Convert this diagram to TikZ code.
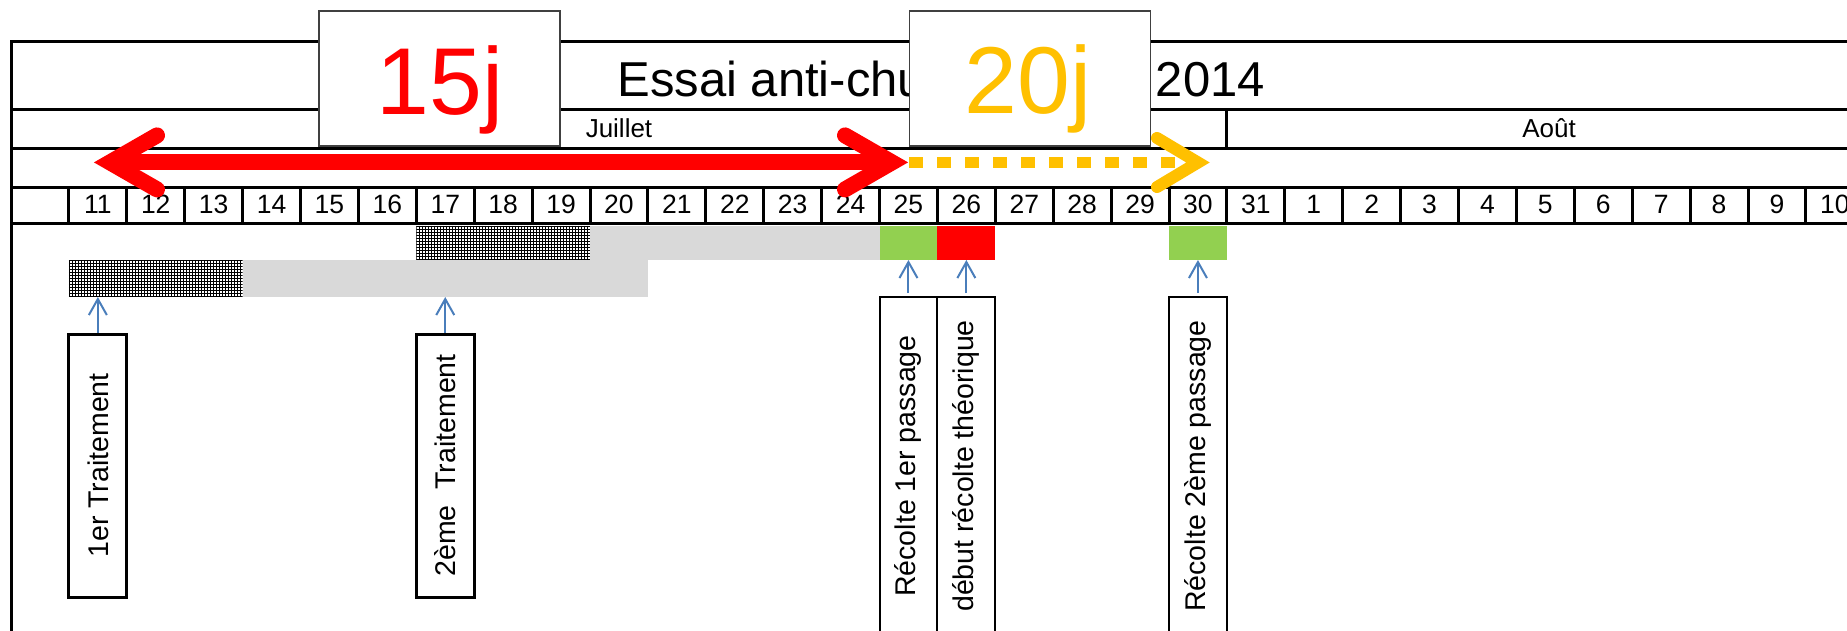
\documentclass[tikz,border=0pt]{standalone}
\usepackage{fontspec}
\setmainfont{Liberation Sans}
\usetikzlibrary{arrows.meta}
\definecolor{barg}{HTML}{D9D9D9}
\definecolor{vert}{HTML}{92D050}
\definecolor{orng}{HTML}{FFC000}
\definecolor{bleu}{HTML}{4A7EBB}
\definecolor{boxgray}{HTML}{404040}
\begin{document}
\begin{tikzpicture}[x=0.5pt,y=-0.5pt,
  tbl/.style={line width=1.5pt, black},
  daynum/.style={font=\fontsize{13.25pt}{15pt}\selectfont, inner sep=0pt, anchor=base},
  month/.style={font=\fontsize{13pt}{15pt}\selectfont, inner sep=0pt, anchor=base},
  titletxt/.style={font=\fontsize{24.5pt}{28pt}\selectfont, inner sep=0pt, anchor=base west},
  bigbox/.style={draw=boxgray, line width=0.75pt, fill=white, minimum width=120.5pt, minimum height=67.5pt, inner sep=0pt},
  bignum/.style={font=\fontsize{47.5pt}{50pt}\selectfont, anchor=base, inner sep=0pt},
  lblA/.style={draw, line width=1.5pt, fill=white, minimum width=28.95pt, minimum height=131.5pt, inner sep=0pt, font=\fontsize{14.25pt}{16pt}\selectfont},
  lblB/.style={draw, line width=1pt, fill=white, minimum width=28.95pt, minimum height=169pt, inner sep=0pt, font=\fontsize{14.25pt}{16pt}\selectfont},
  bar/.style={inner sep=0pt, outer sep=0pt, anchor=north west, draw=none},
  hatchln/.style={line width=0.38pt, black},
  bluearr/.style={draw=bleu, line width=1pt, -{Straight Barb[length=8pt,width=9pt]}},
  redln/.style={red, line width=8pt},
  redhead/.style={red, line width=8pt, line cap=round, line join=miter},
  orngln/.style={orng, line width=5.85pt, dash pattern=on 6.85pt off 7.15pt},
  ornghead/.style={orng, line width=6pt, line cap=round, line join=miter}
]
\clip (0,0) rectangle (1847,631);
\fill[white] (0,0) rectangle (1847,631);

% ---- bars ----
\node[bar, fill=white, minimum width=86.85pt, minimum height=18.5pt] (b1h) at (68.9,260) {};
\node[bar, fill=barg, minimum width=202.65pt, minimum height=18.5pt] (b1g) at (242.6,260) {};
\node[bar, fill=white, minimum width=86.85pt, minimum height=17.25pt] (b2h) at (416.3,225.5) {};
\node[bar, fill=barg, minimum width=144.75pt, minimum height=17.25pt] (b2g) at (590,225.5) {};
\node[bar, fill=vert, minimum width=28.95pt, minimum height=17.25pt] (gv1) at (879.5,225.5) {};
\node[bar, fill=red, minimum width=28.95pt, minimum height=17.25pt] (rd) at (937.4,225.5) {};
\node[bar, fill=vert, minimum width=28.95pt, minimum height=17.25pt] (gv2) at (1169,225.5) {};

\begin{scope}
\clip (68.9,260) rectangle (242.6,297);
\foreach \xx in {69.5,72.5,...,243} \draw[hatchln] (\xx,260) -- (\xx,297);
\foreach \yy in {260.5,263.5,...,297} \draw[hatchln] (68.9,\yy) -- (242.6,\yy);
\end{scope}
\begin{scope}
\clip (416.3,225.5) rectangle (590,260);
\foreach \xx in {416.5,419.5,...,590} \draw[hatchln] (\xx,225.5) -- (\xx,260);
\foreach \yy in {226.5,229.5,...,260} \draw[hatchln] (416.3,\yy) -- (590,\yy);
\end{scope}

% ---- table ----
\draw[tbl] (1847,42) -- (11,42) -- (11,640);
\foreach \yy in {110,149,187.5,223} \draw[tbl] (11,\yy) -- (1847,\yy);
\draw[tbl] (1226.9,110) -- (1226.9,149);
\foreach \k in {1,...,31} \draw[tbl] ({11+57.9*\k},187.5) -- ({11+57.9*\k},223);

\foreach \k/\d in {1/11,2/12,3/13,4/14,5/15,6/16,7/17,8/18,9/19,10/20,11/21,12/22,13/23,14/24,15/25,16/26,17/27,18/28,19/29,20/30,21/31,22/1,23/2,24/3,25/4,26/5,27/6,28/7,29/8,30/9,31/10}
  \node[daynum] (d\k) at ({11+57.9*(\k+0.5)},213.3) {\d};

\node[month] (mjul) at (619,137.5) {Juillet};
\node[month] (maou) at (1549,137.5) {Août};

\node[titletxt] (ttl) at (617,96.7) {Essai anti-chute};
\node[titletxt] (yr) at (1155.5,96.7) {2014};

% ---- labels ----
\node[lblA] (l1) at (97.85,465.5) {\rotatebox{90}{1er Traitement}};
\node[lblA] (l2) at (445.25,465.5) {\rotatebox{90}{2ème\ \ Traitement}};
\node[lblB] (l3) at (908.45,466) {\rotatebox{90}{Récolte 1er passage}};
\node[lblB] (l4) at (966.35,466) {\rotatebox{90}{début récolte théorique}};
\node[lblB] (l5) at (1197.95,466) {\rotatebox{90}{Récolte 2ème passage}};

\draw[bluearr] (l1.north) -- (l1.north |- b1h.south);
\draw[bluearr] (l2.north) -- (l2.north |- b1g.south);
\draw[bluearr, shorten <=1.5pt] (l3.north) -- (l3.north |- gv1.south);
\draw[bluearr, shorten <=1.5pt] (l4.north) -- (l4.north |- rd.south);
\draw[bluearr, shorten <=1.5pt] (l5.north) -- (l5.north |- gv2.south);

% ---- duration boxes ----
\node[bigbox] (b15) at (439.5,78.5) {};
\node[bignum, text=red] (t15) at (440,115) {15j};
\node[bigbox] (b20) at (1029.8,78.5) {};
\node[bignum, text=orng] (t20) at (1028,114) {20j};

% ---- arrows ----
\coordinate (rL) at (110,162.4);
\coordinate (rLa) at (157,135.4);
\coordinate (rLb) at (157,189.4);
\coordinate (rR) at (892,162.4);
\coordinate (rRa) at (845,135.4);
\coordinate (rRb) at (845,189.4);
\draw[redln] (rL) -- (rR);
\draw[redhead] (rLa) -- (rL) -- (rLb);
\draw[redhead] (rRa) -- (rR) -- (rRb);

\coordinate (oS) at (909,162.5);
\coordinate (oE) at (1178,162.5);
\coordinate (oV) at (1198,162.5);
\coordinate (oVa) at (1157,138);
\coordinate (oVb) at (1157,187);
\draw[orngln] (oS) -- (oE);
\draw[ornghead] (oVa) -- (oV) -- (oVb);
\end{tikzpicture}
\end{document}
